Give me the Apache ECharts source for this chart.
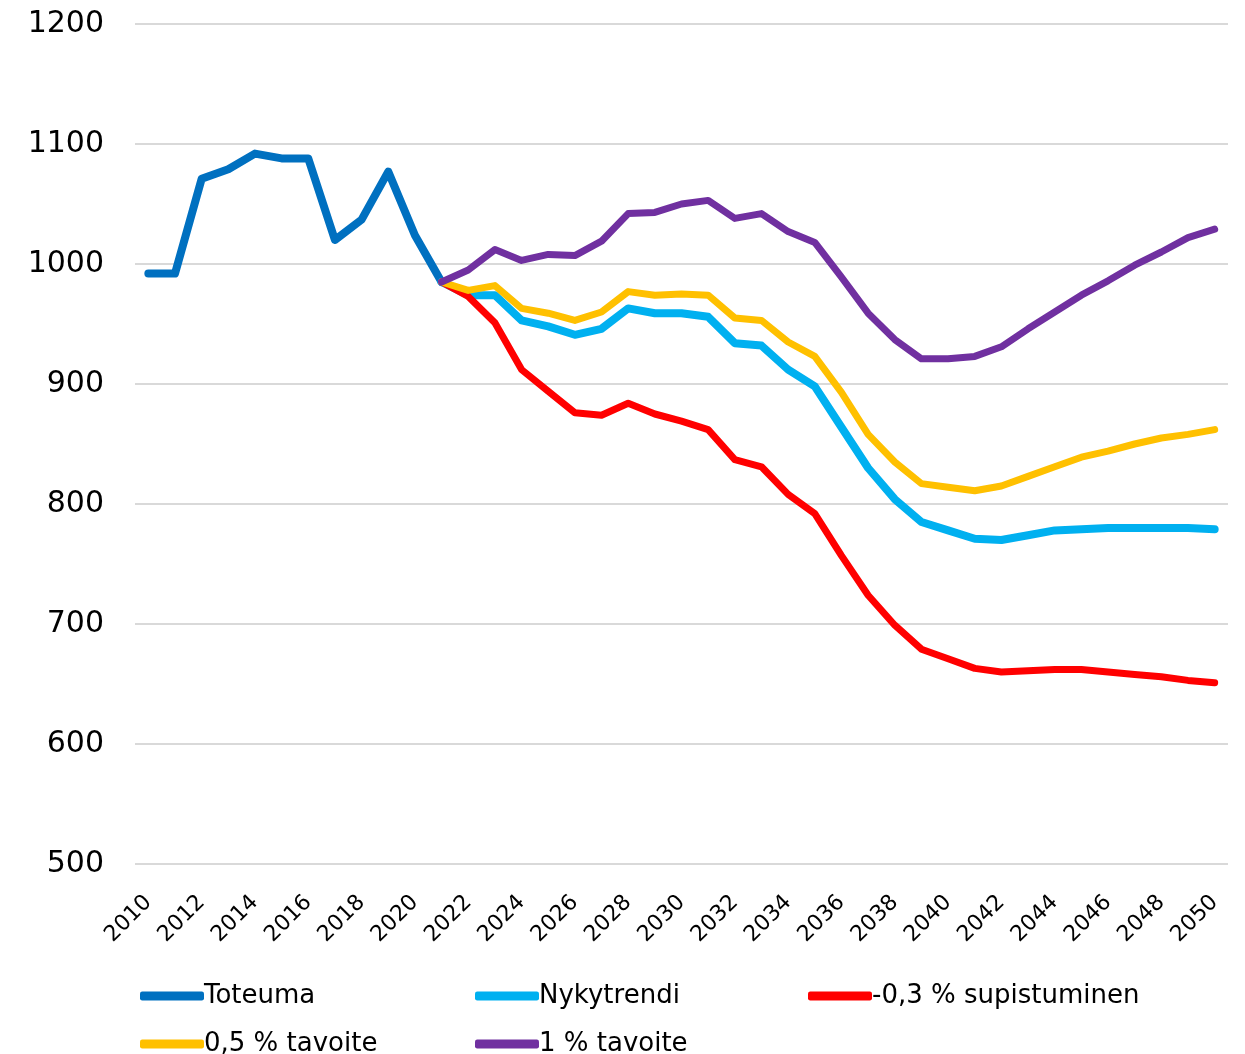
<!DOCTYPE html>
<html>
<head>
<meta charset="utf-8">
<script src="https://cdn.jsdelivr.net/npm/echarts@6/dist/echarts.min.js"></script>
<style>
  html, body { margin: 0; padding: 0; background: #fff; }
  #chart { width: 1245px; height: 1054px; }
</style>
</head>
<body>
<div id="chart"></div>
<script>
// Years 2010–2050
const years = [];
for (let y = 2010; y <= 2050; y++) years.push(String(y));

// Actual values 2010–2021
const toteuma = [992, 992, 1071, 1079, 1092, 1088, 1088, 1020, 1037, 1077, 1024, 985];

// Scenario values 2021–2050
const nykytrendi = [985, 974, 974, 953, 948, 941, 946, 963, 959, 959, 956, 934, 932, 912, 898,
  864, 830, 804, 785, 778, 771, 770, 774, 778, 779, 780, 780, 780, 780, 779];
const supistuminen = [985, 973, 951, 912, 894, 876, 874, 884, 875, 869, 862, 837, 831, 808, 792,
  757, 724, 699, 679, 671, 663, 660, 661, 662, 662, 660, 658, 656, 653, 651];
const tavoite05 = [985, 978, 982, 963, 959, 953, 960, 977, 974, 975, 974, 955, 953, 935, 923,
  893, 858, 835, 817, 814, 811, 815, 823, 831, 839, 844, 850, 855, 858, 862];
const tavoite1 = [985, 995, 1012, 1003, 1008, 1007, 1019, 1042, 1043, 1050, 1053, 1038, 1042, 1027, 1018,
  989, 959, 937, 921, 921, 923, 931, 946, 960, 974, 986, 999, 1010, 1022, 1029];

const seriesNames = ['Toteuma', 'Nykytrendi', '-0,3 % supistuminen', '0,5 % tavoite', '1 % tavoite'];
const seriesColors = ['#0070C0', '#00B0F0', '#FF0000', '#FFC000', '#7030A0'];

// Align a series to the full year axis, padding with nulls
function pad(values, startYear) {
  const out = years.map(() => null);
  const offset = startYear - 2010;
  values.forEach((v, i) => { out[offset + i] = v; });
  return out;
}

const seriesData = [
  pad(toteuma, 2010),
  pad(nykytrendi, 2021),
  pad(supistuminen, 2021),
  pad(tavoite05, 2021),
  pad(tavoite1, 2021)
];
const widths = [8, 8, 7, 7, 7];

const font = 'DejaVu Sans';
const legendPos = [
  { left: 135, top: 978 },
  { left: 470, top: 978 },
  { left: 803, top: 978 },
  { left: 135, top: 1026 },
  { left: 470, top: 1026 }
];

const chart = echarts.init(document.getElementById('chart'), null, { renderer: 'canvas' });
chart.setOption({
  animation: false,
  textStyle: { fontFamily: font },
  grid: { left: 135, right: 17, top: 24, height: 840 },
  xAxis: {
    type: 'category',
    data: years,
    boundaryGap: true,
    axisLine: { show: false },
    axisTick: { show: false },
    axisLabel: { interval: 1, rotate: 45, fontSize: 22, color: '#000', fontFamily: font, margin: 35 }
  },
  yAxis: {
    type: 'value',
    min: 500,
    max: 1200,
    interval: 100,
    axisLine: { show: false },
    axisTick: { show: false },
    axisLabel: {
      fontSize: 30, color: '#000', fontFamily: font, margin: 31,
      formatter: (v) => String(v)
    },
    splitLine: { lineStyle: { color: '#d9d9d9', width: 2 } }
  },
  legend: seriesNames.map((n, i) => ({
    data: [n],
    left: legendPos[i].left,
    top: legendPos[i].top,
    icon: 'roundRect',
    itemWidth: 64,
    itemHeight: 9,
    textStyle: { fontSize: 26, color: '#000', fontFamily: font, padding: [0, 0, 0, -5] },
    selectedMode: false
  })),
  series: seriesNames.map((n, i) => ({
    name: n,
    type: 'line',
    data: seriesData[i],
    showSymbol: false,
    symbol: 'none',
    color: seriesColors[i],
    lineStyle: { width: widths[i], color: seriesColors[i], cap: 'round', join: 'round' },
    itemStyle: { color: seriesColors[i] }
  }))
});
</script>
</body>
</html>
